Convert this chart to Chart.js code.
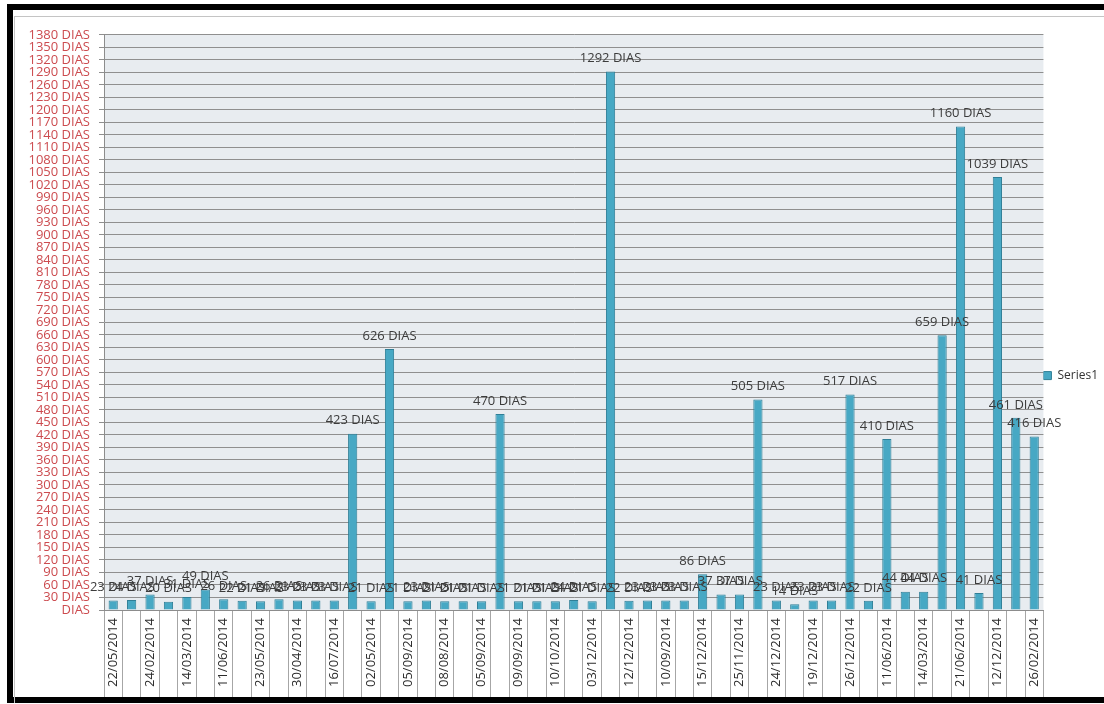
<!DOCTYPE html>
<html>
<head>
<meta charset="utf-8">
<script src="https://cdn.jsdelivr.net/npm/chart.js@4.4.1/dist/chart.umd.min.js"></script>
<style>
  html, body { margin: 0; padding: 0; background: #fff; overflow: hidden; width: 1104px; height: 704px; }
  #frame { position: absolute; left: 7px; top: 4px; width: 1120px; height: 687px; border: 6px solid #000; border-right: none; background: #fff; }
  #inner { position: absolute; left: 1px; top: 6px; right: 0; bottom: -6px; border-left: 1px solid #c4c4c4; border-top: 1px solid #c4c4c4; }
  #wrap { position: absolute; left: 15px; top: 18px; width: 1089px; height: 679px; }
</style>
</head>
<body>
<div id="frame"><div id="inner"></div></div>
<div id="wrap"><canvas id="chart" width="1089" height="679"></canvas></div>
<script>
// Days per record
const values = [23, 24, 37, 20, 31, 49, 26, 22, 21, 26, 23, 23, 23, 423, 21, 626, 21, 23, 21, 21,
                21, 470, 21, 21, 21, 24, 21, 1292, 22, 23, 23, 23, 86, 37, 37, 505, 23, 14, 23, 23,
                517, 22, 410, 44, 44, 659, 1160, 41, 1039, 461, 416];

// Dates printed under every second bar
const shownDates = ['22/05/2014', '24/02/2014', '14/03/2014', '11/06/2014', '23/05/2014', '30/04/2014',
                    '16/07/2014', '02/05/2014', '05/09/2014', '08/08/2014', '05/09/2014', '09/09/2014',
                    '10/10/2014', '03/12/2014', '12/12/2014', '10/09/2014', '15/12/2014', '25/11/2014',
                    '24/12/2014', '19/12/2014', '26/12/2014', '11/06/2014', '14/03/2014', '21/06/2014',
                    '12/12/2014', '26/02/2014'];

const seriesName = 'Series1';
const unit = 'DIAS';
const yMax = 1380;
const yStep = 30;

const categories = values.map((v, i) => (i % 2 === 0 ? shownDates[i / 2] : ''));

const FONT = "'Open Sans', 'DejaVu Sans', sans-serif";

// Light plot-area fill
const plotBackground = {
  id: 'plotBackground',
  beforeDraw(chart) {
    const { ctx, chartArea: a } = chart;
    ctx.save();
    ctx.fillStyle = '#e8ecf0';
    ctx.fillRect(a.left, a.top, a.right - a.left, a.bottom - a.top);
    ctx.restore();
  }
};

// "N DIAS" above each bar
const valueLabels = {
  id: 'valueLabels',
  afterDatasetsDraw(chart) {
    const { ctx } = chart;
    const meta = chart.getDatasetMeta(0);
    const data = chart.data.datasets[0].data;
    ctx.save();
    ctx.font = '13px ' + FONT;
    ctx.fillStyle = '#3c3c3c';
    ctx.textAlign = 'center';
    ctx.textBaseline = 'middle';
    meta.data.forEach((bar, i) => {
      ctx.fillText(data[i] + ' ' + unit, bar.x, bar.y - 13);
    });
    ctx.restore();
  }
};

new Chart(document.getElementById('chart'), {
  type: 'bar',
  data: {
    labels: categories,
    datasets: [{
      label: seriesName,
      data: values,
      backgroundColor: '#47a8c4',
      borderColor: '#2f7f97',
      borderWidth: 1,
      barPercentage: 0.5,
      categoryPercentage: 1.0
    }]
  },
  options: {
    responsive: false,
    animation: false,
    layout: { padding: { top: 16, right: -4, left: 0, bottom: 0 } },
    plugins: {
      tooltip: { enabled: false },
      legend: {
        position: 'right',
        align: 'center',
        title: { display: true, text: '', padding: { top: 19, bottom: 0 }, font: { size: 1 } },
        labels: {
          boxWidth: 8,
          boxHeight: 8,
          padding: 0,
          color: '#333',
          font: { family: FONT, size: 12 }
        }
      }
    },
    scales: {
      x: {
        offset: true,
        grid: { display: true, drawOnChartArea: false, drawTicks: true, tickLength: 87, color: '#a6a6a6', offset: true },
        border: { display: true, color: '#8c8c8c' },
        ticks: {
          autoSkip: false,
          minRotation: 90,
          maxRotation: 90,
          padding: -79,
          color: '#2b2b2b',
          font: { family: FONT, size: 13 }
        },
        afterFit(scale) { scale.height = 87; }
      },
      y: {
        min: 0,
        max: yMax,
        grid: { color: '#8f8f8f', drawTicks: true, tickLength: 5 },
        border: { display: true, color: '#8c8c8c' },
        ticks: {
          stepSize: yStep,
          autoSkip: false,
          maxTicksLimit: 100,
          padding: 9,
          color: '#cc4b4f',
          font: { family: FONT, size: 13 },
          callback: (v) => (v === 0 ? unit : v + ' ' + unit)
        },
        afterFit(scale) { scale.width = 89; }
      }
    }
  },
  plugins: [plotBackground, valueLabels]
});
</script>
</body>
</html>
